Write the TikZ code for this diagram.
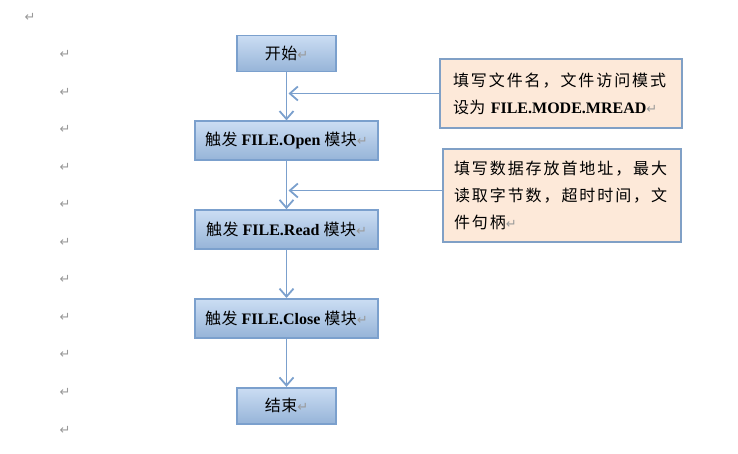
\documentclass[tikz,border=0pt]{standalone}
\usepackage{fontspec}
\setmainfont{Liberation Serif}
\newfontfamily\cjk[LetterSpace=3]{Noto Sans CJK SC}
\newfontfamily\cjknote[LetterSpace=12]{Noto Sans CJK SC}
\newfontfamily\markfont{DejaVu Sans}
\usetikzlibrary{arrows.meta,positioning}
\definecolor{EdgeBlue}{RGB}{123,160,205}
\definecolor{TopBlue}{RGB}{203,221,243}
\definecolor{BotBlue}{RGB}{150,180,216}
\definecolor{NoteFill}{RGB}{253,233,217}
\definecolor{NoteEdge}{RGB}{128,160,198}
\newcommand{\pmark}{{\markfont\color{gray!80}\fontsize{13}{13}\selectfont ↵}}
\newcommand{\lat}[1]{{\rmfamily\bfseries #1}}
\tikzset{
  stepbox/.style={draw=EdgeBlue,line width=1.8pt,top color=TopBlue,bottom color=BotBlue,
    minimum width=183pt,minimum height=39pt,inner sep=0pt,align=center,
    font=\fontsize{16}{18}\selectfont},
  endbox/.style={stepbox,minimum width=99pt,minimum height=36pt},
  notebox/.style={draw=NoteEdge,line width=1.6pt,fill=NoteFill,inner sep=0pt,
    text width=216pt,align=left,font=\fontsize{16}{27}\selectfont},
  flow/.style={-{Straight Barb[length=8pt,width=14pt]},line width=1.8pt,EdgeBlue},
  pm/.style={inner sep=0pt}
}
\begin{document}
\begin{tikzpicture}[x=1pt,y=-1pt,node distance=48pt]
\useasboundingbox (0,0) rectangle (738,454);
% flow steps
\node[endbox] (start) at (286.5,53.5) {\cjk 开始\pmark};
\node[stepbox,below=of start] (open) {\cjk 触发 \lat{FILE.Open} 模块\pmark};
\node[stepbox,below=of open] (read) {\cjk 触发 \lat{FILE.Read} 模块\pmark};
\node[stepbox,below=of read] (close) {\cjk 触发 \lat{FILE.Close} 模块\pmark};
\node[endbox,below=of close] (stop) {\cjk 结束\pmark};
% notes
\node[notebox,minimum width=242pt,minimum height=69pt] (note1) at (561,93.5)
  {\cjknote 填写文件名，文件访问模式\\\cjk 设为 \lat{FILE.MODE.MREAD}\pmark};
\node[notebox,minimum width=238pt,minimum height=93pt] (note2) at (562,195.5)
  {\cjknote 填写数据存放首地址，最大\\读取字节数，超时时间，文\\件句柄\pmark};
% connectors
\draw[flow] (start) -- (open);
\draw[flow] (open) -- (read);
\draw[flow] (read) -- (close);
\draw[flow] (close) -- (stop);
\draw[flow,shorten >=2pt] (note1.west) -- (note1.west -| start.south);
\draw[flow,shorten >=2pt] ([yshift=5pt]note2.west) -- ([yshift=5pt]note2.west -| start.south);
% paragraph marks
\node[pm] (pm0) at (30,17) {\pmark};
\foreach \y [count=\i] in {54,92,129,167,204,242,279,317,354,392,430}
  \node[pm] (pm\i) at (65,\y) {\pmark};
\end{tikzpicture}
\end{document}
